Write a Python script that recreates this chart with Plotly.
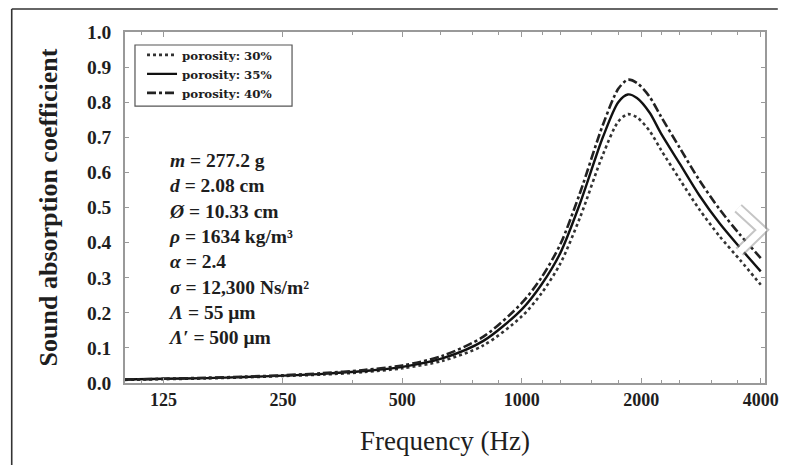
import plotly.graph_objects as go

# ---- data ----
freq_hz = [100, 125, 160, 200, 250, 315, 400, 500, 630, 800, 1000, 1120, 1250,
           1400, 1600, 1750, 1850, 1950, 2100, 2240, 2500, 2800, 3150, 3550, 4000]
alpha_30 = [0.009, 0.011, 0.013, 0.016, 0.020, 0.024, 0.031, 0.042, 0.063, 0.107,
            0.190, 0.255, 0.340, 0.470, 0.650, 0.745, 0.766, 0.757, 0.718, 0.665,
            0.580, 0.495, 0.418, 0.350, 0.280]
alpha_35 = [0.010, 0.012, 0.014, 0.017, 0.021, 0.026, 0.034, 0.046, 0.070, 0.120,
            0.210, 0.280, 0.370, 0.510, 0.700, 0.800, 0.822, 0.812, 0.770, 0.712,
            0.625, 0.535, 0.455, 0.385, 0.318]
alpha_40 = [0.010, 0.012, 0.015, 0.018, 0.022, 0.028, 0.037, 0.050, 0.077, 0.132,
            0.228, 0.300, 0.395, 0.540, 0.735, 0.838, 0.864, 0.855, 0.815, 0.760,
            0.670, 0.578, 0.495, 0.422, 0.356]
series_names = ["porosity: 30%", "porosity: 35%", "porosity: 40%"]
x_tick_vals = [125, 250, 500, 1000, 2000, 4000]
x_tick_text = ["125", "250", "500", "1000", "2000", "4000"]
x_minor_vals = [110, 375, 625, 750, 875, 1125, 1250, 1500, 1750, 2250, 2500, 3000, 3500]
param_lines = ["<i>m</i> = 277.2 g", "<i>d</i> = 2.08 cm", "<i>Ø</i> = 10.33 cm",
               "<i>ρ</i> = 1634 kg/m³", "<i>α</i> = 2.4", "<i>σ</i> = 12,300 Ns/m²",
               "<i>Λ</i> = 55 μm", "<i>Λ′</i> = 500 μm"]

FONT = "Liberation Serif"
INK = "#1e1e1e"

fig = go.Figure()
styles = [dict(dash="dot", width=2.6, color="#333333"),
          dict(dash="solid", width=2.4, color="#111111"),
          dict(dash="dashdot", width=2.6, color="#222222")]
for name, ys, st in zip(series_names, [alpha_30, alpha_35, alpha_40], styles):
    fig.add_trace(go.Scatter(x=freq_hz, y=ys, mode="lines", name=name,
                             line=dict(shape="spline", smoothing=0.8, **st)))

axis_common = dict(showline=True, linecolor="#999999", linewidth=1.5, mirror="ticks",
                   ticks="inside", tickcolor="#999999", showgrid=False, zeroline=False,
                   automargin=False)

fig.update_xaxes(type="log", range=[2, 3.6128], tickvals=x_tick_vals, ticktext=x_tick_text,
                 ticklen=5, tickwidth=1.2,
                 minor=dict(tickvals=x_minor_vals, ticks="inside", ticklen=3, tickcolor="#999999"),
                 tickfont=dict(family=FONT, size=18, color=INK, weight="bold"),
                 title=dict(text="Frequency (Hz)", font=dict(family=FONT, size=27, color=INK),
                            standoff=22),
                 **axis_common)
fig.update_yaxes(range=[0, 1.0], dtick=0.1, tickformat=".1f", ticklen=4, tickwidth=1.2,
                 ticklabelstandoff=8,
                 tickfont=dict(family=FONT, size=19.5, color=INK, weight="bold"),
                 title=dict(text="Sound absorption coefficient",
                            font=dict(family=FONT, size=26, color=INK, weight="bold"),
                            standoff=22),
                 **axis_common)

fig.add_annotation(xref="paper", yref="paper", x=0.064, y=0.6695, xanchor="left", yanchor="top",
                   text="<br>".join(param_lines), showarrow=False, align="left",
                   font=dict(family=FONT, size=19.5, color=INK, weight="bold"))

# legend frame
fig.add_shape(type="rect", xref="paper", yref="paper", x0=0.0156, x1=0.261, y0=0.789, y1=0.963,
              line=dict(color="#555555", width=1.2), fillcolor="rgba(0,0,0,0)", layer="above")

# outer screenshot frame lines and carousel chevron
fig.add_shape(type="line", xref="paper", yref="paper", x0=-0.177, x1=1.02, y0=1.0655, y1=1.0655,
              line=dict(color="#333333", width=1.6))
fig.add_shape(type="line", xref="paper", yref="paper", x0=-0.177, x1=-0.177, y0=1.0655, y1=-0.3,
              line=dict(color="#333333", width=1.6))
chev = "M 0.958 0.498 L 0.995 0.436 L 0.960 0.374"
fig.add_shape(type="path", xref="paper", yref="paper", path=chev,
              line=dict(color="rgba(150,150,150,0.55)", width=11))
fig.add_shape(type="path", xref="paper", yref="paper", path=chev,
              line=dict(color="white", width=7))

# the page body adds an 8 px offset; margins compensate for it
fig.update_layout(
    width=787, height=465,
    margin=dict(l=117, r=30, t=24, b=90),
    paper_bgcolor="white", plot_bgcolor="white",
    font=dict(family=FONT, color=INK),
    legend=dict(x=0.0266, y=0.976, xanchor="left", yanchor="top",
                bgcolor="rgba(0,0,0,0)", borderwidth=0,
                font=dict(family="DejaVu Serif", size=11.8, color=INK, weight="bold"),
                tracegroupgap=0, itemwidth=30),
    showlegend=True,
)

fig.write_html("out.html")
